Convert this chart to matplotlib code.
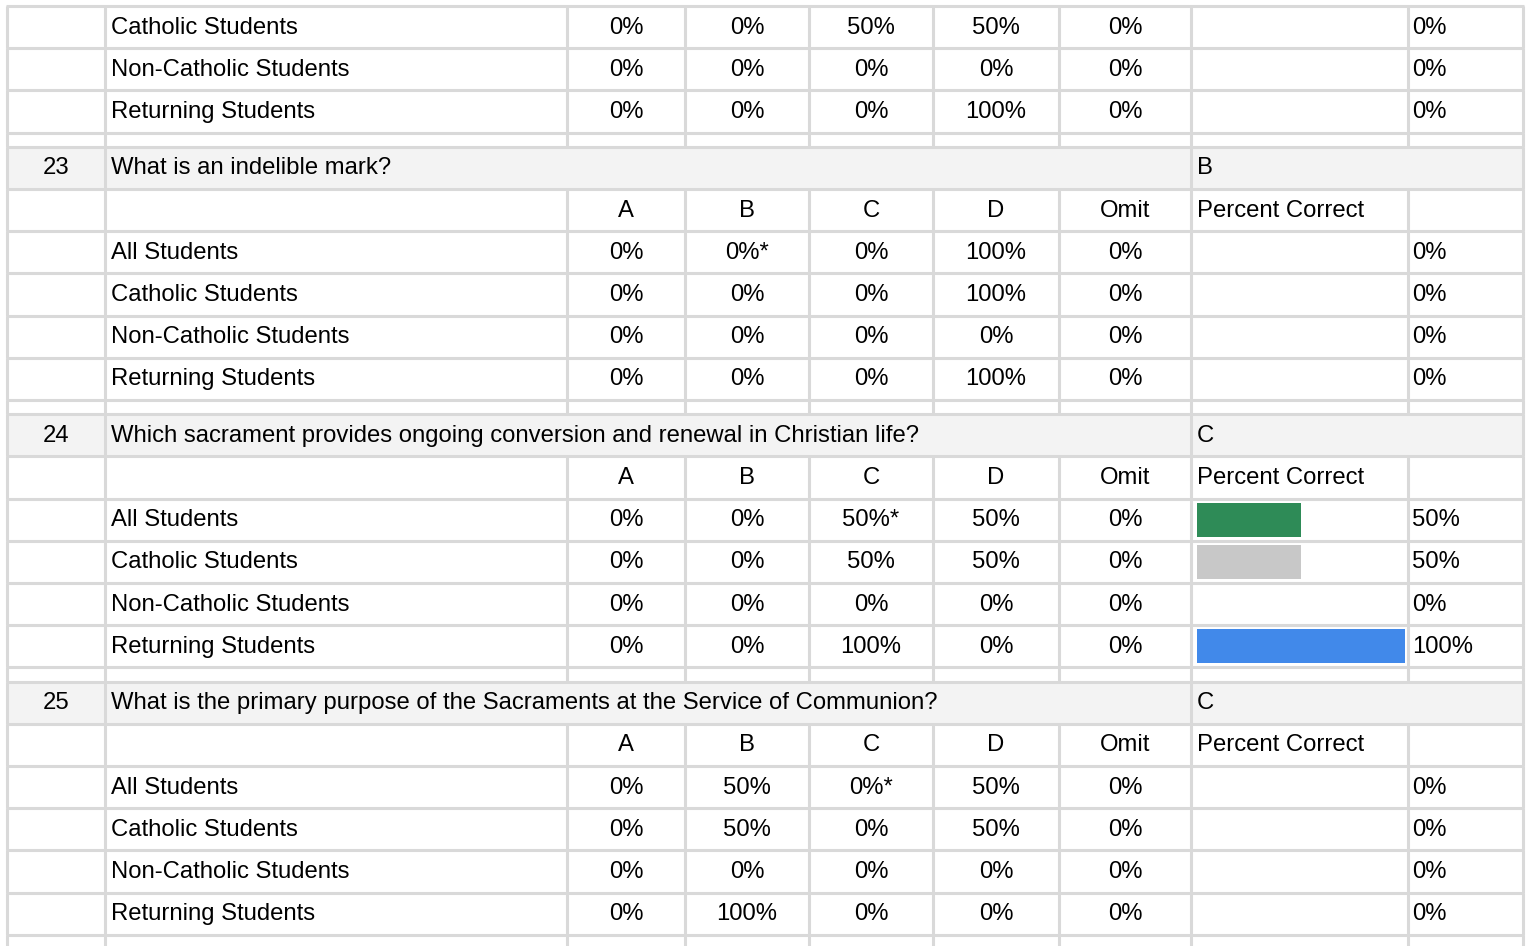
import matplotlib
matplotlib.use('Agg')
import matplotlib.pyplot as plt
from matplotlib.patches import Rectangle

# ---- data ----
groups = ['All Students', 'Catholic Students', 'Non-Catholic Students', 'Returning Students']
choices = ['A', 'B', 'C', 'D', 'Omit']
group_colors = ['#2e8b57', '#c8c8c8', '#f4b400', '#4189ea']

# tail of question 22 (only three group rows are visible)
q22_groups = ['Catholic Students', 'Non-Catholic Students', 'Returning Students']
q22_pcts = [[0, 0, 50, 50, 0], [0, 0, 0, 0, 0], [0, 0, 0, 100, 0]]
q22_correct = [0, 0, 0]

question_nums = [23, 24, 25]
question_texts = [
    'What is an indelible mark?',
    'Which sacrament provides ongoing conversion and renewal in Christian life?',
    'What is the primary purpose of the Sacraments at the Service of Communion?',
]
answers = ['B', 'C', 'C']
q23_pcts = [[0, 0, 0, 100, 0], [0, 0, 0, 100, 0], [0, 0, 0, 0, 0], [0, 0, 0, 100, 0]]
q24_pcts = [[0, 0, 50, 50, 0], [0, 0, 50, 50, 0], [0, 0, 0, 0, 0], [0, 0, 100, 0, 0]]
q25_pcts = [[0, 50, 0, 50, 0], [0, 50, 0, 50, 0], [0, 0, 0, 0, 0], [0, 100, 0, 0, 0]]
all_pcts = [q23_pcts, q24_pcts, q25_pcts]
correct_pcts = [[0, 0, 0, 0], [50, 50, 0, 100], [0, 0, 0, 0]]

# ---- layout (pixels) ----
W, H = 1528, 946
col_x = [7, 105, 567, 685, 809, 933, 1059, 1191, 1408, 1523]
top = 6
row_h = 42.2
gap_h = 14.2
grid_col = '#d9d9d9'
band_col = '#f3f3f3'
fs = 17.2
font = 'Liberation Sans'

fig = plt.figure(figsize=(W / 100, H / 100), dpi=100)
ax = fig.add_axes([0, 0, 1, 1])
ax.set_xlim(0, W)
ax.set_ylim(H, 0)
ax.axis('off')

# build list of rows: (kind, payload)
rows = []
for g, p, c in zip(q22_groups, q22_pcts, q22_correct):
    rows.append(('data', (g, p, c, None, False, None)))
for qi in range(len(question_nums)):
    rows.append(('gap', None))
    rows.append(('question', (question_nums[qi], question_texts[qi], answers[qi])))
    rows.append(('header', None))
    for gi, g in enumerate(groups):
        rows.append(('data', (g, all_pcts[qi][gi], correct_pcts[qi][gi], answers[qi], gi == 0, group_colors[gi])))
rows.append(('gap', None))

def text(x, y, s, ha='left'):
    ax.text(x, y + 0.5, s, ha=ha, va='center', fontsize=fs, family=font, color='#000000')

def center(i):
    return (col_x[i] + col_x[i + 1]) / 2

lw = 2.2
y = top
hlines = [y]
for kind, payload in rows:
    h = gap_h if kind == 'gap' else row_h
    yc = y + h / 2
    if kind == 'question':
        num, qtext, ans = payload
        ax.add_patch(Rectangle((col_x[0], y), col_x[-1] - col_x[0], h, color=band_col, zorder=0))
        text(center(0), yc, str(num), ha='center')
        text(col_x[1] + 6, yc, qtext)
        text(col_x[7] + 6, yc, ans)
        vx = [col_x[0], col_x[1], col_x[7], col_x[-1]]
    else:
        vx = col_x
        if kind == 'header':
            for i, ch in enumerate(choices):
                text(center(2 + i), yc, ch, ha='center')
            text(col_x[7] + 6, yc, 'Percent Correct')
        elif kind == 'data':
            g, pcts, corr, ans, star, color = payload
            text(col_x[1] + 6, yc, g)
            for i, v in enumerate(pcts):
                label = f'{v}%'
                if star and choices[i] == ans:
                    label += '*'
                text(center(2 + i), yc, label, ha='center')
            if color is not None and corr > 0:
                full = col_x[8] - col_x[7] - 9
                ax.barh(yc, corr / 100 * full, height=34, left=col_x[7] + 6,
                        color=color, linewidth=0, zorder=1)
            text(col_x[8] + 4, yc, f'{corr}%')
    for x in vx:
        ax.plot([x, x], [y, y + h], color=grid_col, lw=lw, solid_capstyle='butt', zorder=2)
    y += h
    hlines.append(y)

# trailing partial row below the last gap
for x in col_x:
    ax.plot([x, x], [y, H], color=grid_col, lw=lw, solid_capstyle='butt', zorder=2)

for hy in hlines:
    ax.plot([col_x[0] - 1, col_x[-1] + 1], [hy, hy], color=grid_col, lw=lw, solid_capstyle='butt', zorder=2)

plt.savefig('out.png', dpi=100)
